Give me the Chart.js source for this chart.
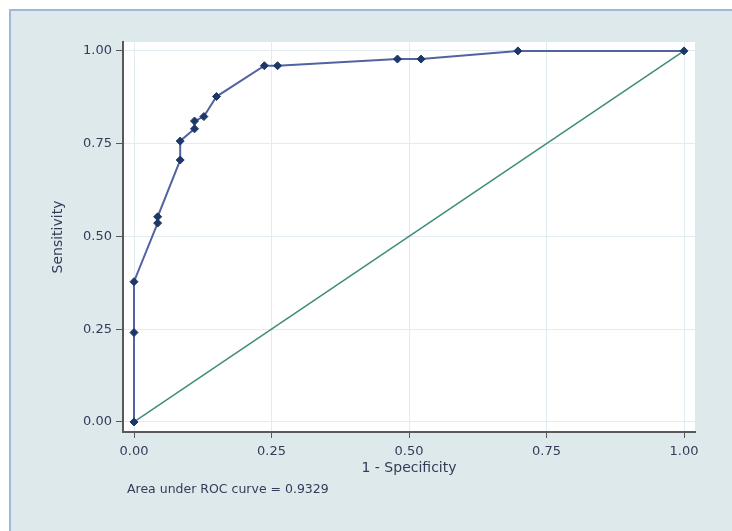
<!DOCTYPE html>
<html lang="en">
<head>
    <meta charset="UTF-8">
    <title>ROC curve</title>
    <script src="https://cdn.jsdelivr.net/npm/chart.js@4.4.1/dist/chart.umd.min.js"></script>
    <style>
        body {
            margin: 0;
            padding: 0;
            background-color: #fff;
            width: 732px;
            height: 531px;
            overflow: hidden;
            position: relative;
        }

        .panel {
            position: absolute;
            left: 9px;
            top: 9px;
            width: 760px;
            height: 560px;
            background-color: #dee9ec;
            border: 2px solid #a3b8d6;
        }

        #rocChart {
            position: absolute;
            left: 0;
            top: 0;
        }
    </style>
</head>
<body>
    <div class="panel"></div>
    <canvas id="rocChart" width="732" height="531"></canvas>

    <script>
        // ROC points (1 - specificity, sensitivity)
        const falsePosRate = [0, 0, 0, 0.043, 0.043, 0.084, 0.084, 0.110, 0.110, 0.127, 0.150, 0.237, 0.261, 0.479, 0.522, 0.698, 1];
        const sensitivity  = [0, 0.241, 0.378, 0.536, 0.553, 0.706, 0.757, 0.790, 0.811, 0.823, 0.877, 0.960, 0.960, 0.978, 0.978, 1, 1];

        // reference line
        const diagX = [0, 1];
        const diagY = [0, 1];

        const tickValues = [0, 0.25, 0.5, 0.75, 1];
        const aucNote = 'Area under ROC curve = 0.9329';

        const textColor = '#363a58';
        const fontFamily = '"DejaVu Sans", Verdana, sans-serif';

        const toPoints = (xs, ys) => xs.map((x, i) => ({ x: x, y: ys[i] }));

        // white plot region + the note under the axis
        const plotBackground = {
            id: 'plotBackground',
            beforeDraw(chart) {
                const { ctx, chartArea } = chart;
                ctx.save();
                ctx.fillStyle = '#ffffff';
                ctx.fillRect(chartArea.left, chartArea.top, chartArea.right - chartArea.left, chartArea.bottom - chartArea.top);
                ctx.restore();
            },
            afterDraw(chart) {
                const { ctx, chartArea } = chart;
                ctx.save();
                ctx.fillStyle = textColor;
                ctx.font = '12.5px ' + fontFamily;
                ctx.textBaseline = 'middle';
                ctx.fillText(aucNote, chartArea.left + 4, chartArea.bottom + 58);
                ctx.restore();
            }
        };

        const ctx = document.getElementById('rocChart').getContext('2d');
        new Chart(ctx, {
            type: 'scatter',
            data: {
                datasets: [
                    {
                        label: 'ROC',
                        data: toPoints(falsePosRate, sensitivity),
                        showLine: true,
                        borderColor: '#5163a0',
                        borderWidth: 2,
                        pointStyle: 'rectRot',
                        pointRadius: 4,
                        pointBackgroundColor: '#1d3766',
                        pointBorderColor: '#1d3766',
                        pointBorderWidth: 1
                    },
                    {
                        label: 'Reference',
                        data: toPoints(diagX, diagY),
                        showLine: true,
                        borderColor: '#3f8c7b',
                        borderWidth: 1.5,
                        pointRadius: 0
                    }
                ]
            },
            options: {
                responsive: false,
                animation: false,
                layout: {
                    padding: { top: 42, right: 37, bottom: 0, left: 0 }
                },
                scales: {
                    x: {
                        type: 'linear',
                        min: -0.02,
                        max: 1.02,
                        afterBuildTicks: scale => { scale.ticks = tickValues.map(v => ({ value: v })); },
                        afterFit: scale => { scale.height = 99; },
                        border: { color: '#595959', width: 2 },
                        grid: {
                            color: '#e2ebef',
                            lineWidth: 1,
                            tickColor: '#595959',
                            tickLength: 6
                        },
                        ticks: {
                            color: textColor,
                            padding: 6,
                            maxRotation: 0,
                            font: { family: fontFamily, size: 13 },
                            callback: v => v.toFixed(2)
                        },
                        title: {
                            display: true,
                            text: '1 - Specificity',
                            color: textColor,
                            font: { family: fontFamily, size: 14 },
                            padding: { top: 0, bottom: 54 }
                        }
                    },
                    y: {
                        type: 'linear',
                        min: -0.027,
                        max: 1.024,
                        afterBuildTicks: scale => { scale.ticks = tickValues.map(v => ({ value: v })); },
                        afterFit: scale => { scale.width = 123; },
                        border: { color: '#595959', width: 2 },
                        grid: {
                            color: '#e2ebef',
                            lineWidth: 1,
                            tickColor: '#595959',
                            tickLength: 7
                        },
                        ticks: {
                            color: textColor,
                            padding: 4,
                            font: { family: fontFamily, size: 13 },
                            callback: v => v.toFixed(2)
                        },
                        title: {
                            display: true,
                            text: 'Sensitivity',
                            color: textColor,
                            font: { family: fontFamily, size: 14 },
                            padding: { top: 50, bottom: 0 }
                        }
                    }
                },
                plugins: {
                    legend: { display: false },
                    tooltip: { enabled: false }
                }
            },
            plugins: [plotBackground]
        });
    </script>
</body>
</html>
